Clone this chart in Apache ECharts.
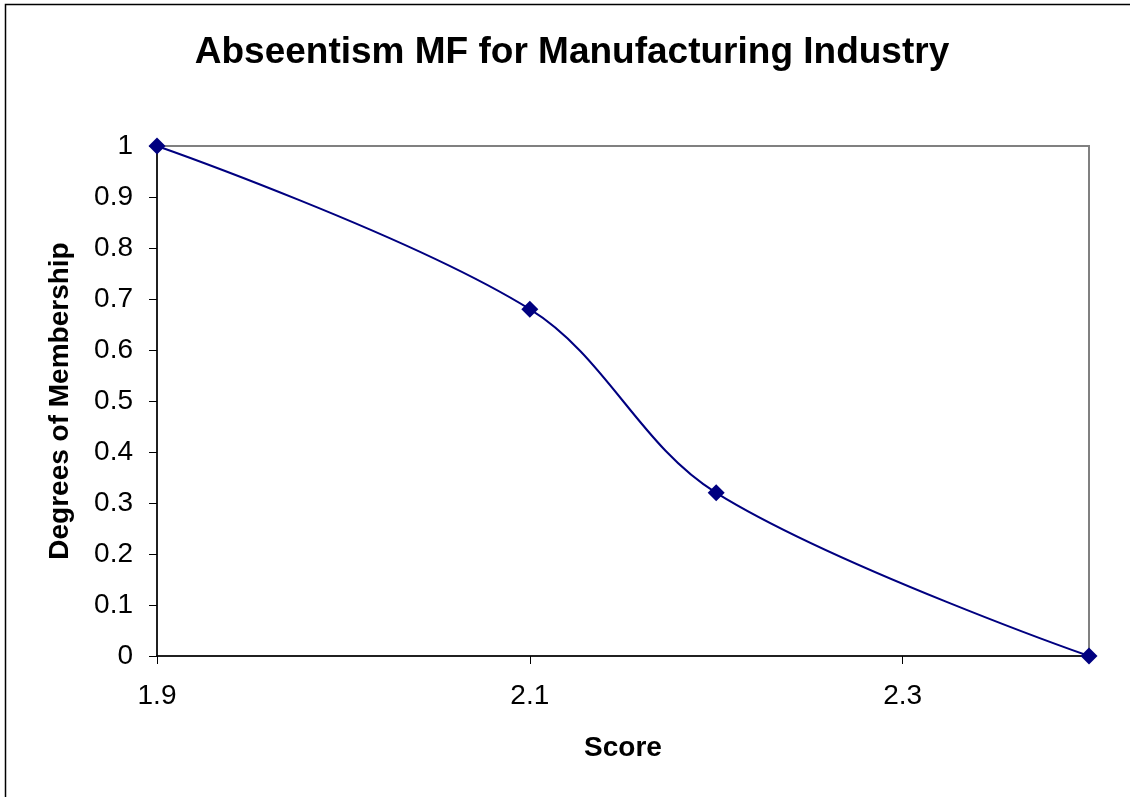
<!DOCTYPE html>
<html>
<head>
<meta charset="utf-8">
<script src="https://cdn.jsdelivr.net/npm/echarts@6/dist/echarts.min.js"></script>
<style>html,body{margin:0;padding:0;background:#fff;}#c{width:1130px;height:797px;}</style>
</head>
<body>
<div id="c"></div>
<script>
const titleText = 'Abseentism MF for Manufacturing Industry';
const xName = 'Score';
const yName = 'Degrees of Membership';
const scores = [1.9, 2.1, 2.2, 2.4];
const membership = [1, 0.68, 0.32, 0];
const xOrigin = 1.9;
const xTickStep = 0.2;
const xSpan = 0.5;

const chart = echarts.init(document.getElementById('c'), null, {renderer: 'canvas'});
const font = 'Liberation Sans, Arial, sans-serif';
chart.setOption({
  animation: false,
  backgroundColor: '#fff',
  title: {
    text: titleText, left: 567, top: 29, textAlign: 'center',
    textStyle: {fontFamily: font, fontSize: 37, fontWeight: 'bold', color: '#000'}
  },
  graphic: [{
    type: 'rect', z: 100, silent: true,
    shape: {x: 5.5, y: 4.5, width: 1300, height: 1000},
    style: {fill: 'none', stroke: '#000', lineWidth: 1.5}
  }],
  grid: {left: 157, top: 146, right: 41, bottom: 141, show: true, borderColor: '#808080', borderWidth: 2, backgroundColor: '#fff'},
  xAxis: {
    type: 'value', min: 0, max: xSpan, interval: xTickStep,
    name: xName, nameLocation: 'middle', nameGap: 78,
    nameTextStyle: {fontFamily: font, fontSize: 28, fontWeight: 'bold', color: '#000'},
    axisLine: {show: true, lineStyle: {color: '#000', width: 1.5}},
    axisTick: {show: true, length: 8, lineStyle: {color: '#000', width: 1}},
    axisLabel: {fontFamily: font, fontSize: 28, color: '#000', margin: 26, showMaxLabel: false,
      formatter: v => (v + xOrigin).toFixed(1)},
    splitLine: {show: false}
  },
  yAxis: {
    type: 'value', min: 0, max: 1, interval: 0.1,
    name: yName, nameLocation: 'middle', nameGap: 83, nameRotate: 90,
    nameTextStyle: {fontFamily: font, fontSize: 28, fontWeight: 'bold', color: '#000'},
    axisLine: {show: true, lineStyle: {color: '#000', width: 1.5}},
    axisTick: {show: true, length: 8, lineStyle: {color: '#000', width: 1}},
    axisLabel: {fontFamily: font, fontSize: 28, color: '#000', margin: 24},
    splitLine: {show: false}
  },
  series: [{
    type: 'line',
    data: scores.map((s, i) => [s - xOrigin, membership[i]]),
    smooth: 0.35,
    symbol: 'diamond', symbolSize: 17,
    lineStyle: {color: '#000080', width: 2},
    itemStyle: {color: '#000080'},
    clip: false
  }]
});
</script>
</body>
</html>
